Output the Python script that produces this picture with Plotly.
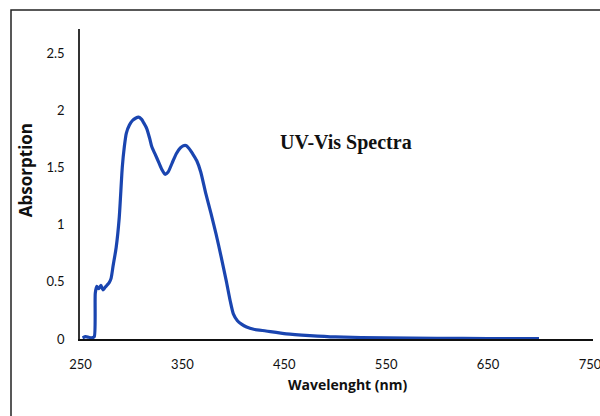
import plotly.graph_objects as go

# UV-Vis absorption spectrum (wavelength in nm, absorption in a.u.)
wavelength = [252, 255, 258, 261, 263.5, 264.5, 266, 268, 270, 272, 274, 276, 278, 280,
              282, 285, 288, 291, 293, 295, 298, 301, 304, 307, 310, 312, 315, 318, 320,
              323, 327, 330, 333, 336, 340, 344, 348, 351, 354, 357, 360, 364, 368, 373,
              378, 383, 388, 393, 397, 400, 404, 408, 413, 420, 432, 452, 475, 500, 550,
              600, 650, 700]
absorption = [0.01, 0.02, 0.015, 0.01, 0.02, 0.40, 0.46, 0.44, 0.47, 0.43, 0.45, 0.47, 0.49, 0.53,
              0.64, 0.80, 1.06, 1.50, 1.68, 1.80, 1.87, 1.91, 1.93, 1.94, 1.92, 1.89, 1.84, 1.75, 1.68,
              1.62, 1.54, 1.48, 1.44, 1.46, 1.54, 1.62, 1.67, 1.69, 1.69, 1.66, 1.62, 1.56, 1.46, 1.27,
              1.10, 0.92, 0.72, 0.51, 0.33, 0.22, 0.16, 0.13, 0.105, 0.085, 0.07, 0.045, 0.03, 0.018, 0.01,
              0.006, 0.004, 0.003]

x_ticks = [250, 350, 450, 550, 650, 750]
y_ticks = [0, 0.5, 1, 1.5, 2, 2.5]
y_tick_text = ["0", "0.5", "1", "1.5", "2", "2.5"]

tick_font = dict(family="Lato, Open Sans, sans-serif", size=13, color="#111111")

fig = go.Figure()
fig.add_trace(go.Scatter(
    x=wavelength, y=absorption, mode="lines",
    line=dict(color="#1a45b0", width=3.2, shape="spline", smoothing=0.6),
    showlegend=False, hoverinfo="skip",
))

fig.update_layout(
    width=600, height=416,
    margin=dict(l=80, r=7, t=29, b=77, autoexpand=False),
    paper_bgcolor="white", plot_bgcolor="white",
    xaxis=dict(
        range=[249.5, 753], tickvals=x_ticks, ticks="", showgrid=False, zeroline=False,
        showline=True, linecolor="#111111", linewidth=2, tickfont=tick_font,
        ticklabelstandoff=12, ticklabeloverflow="allow", automargin=False,
    ),
    yaxis=dict(
        range=[0, 2.71], tickvals=y_ticks, ticktext=y_tick_text, ticks="", showgrid=False,
        zeroline=False, showline=True, linecolor="#333333", linewidth=1.5, tickfont=tick_font,
        ticklabelstandoff=11, automargin=False,
    ),
    shapes=[
        # outer frame around the figure
        dict(type="rect", xref="paper", yref="paper", x0=-0.1345, x1=1.2, y0=-0.5, y1=1.0615,
             line=dict(color="#222222", width=1.5), fillcolor="rgba(0,0,0,0)", layer="below"),
    ],
    annotations=[
        dict(text="<b>UV-Vis Spectra</b>", x=511, y=0.635, xref="x", yref="paper",
             showarrow=False, font=dict(family="Liberation Serif, Times New Roman, serif",
                                        size=20, color="#111111"),
             yanchor="middle", xanchor="center"),
        dict(text="<b>Wavelenght (nm)</b>", x=512, y=-0.148, xref="x", yref="paper",
             showarrow=False,
             font=dict(family="Open Sans, Noto Sans, sans-serif", size=14, color="#111111"),
             yanchor="middle", xanchor="center"),
        dict(text="<b>Absorption</b>", x=-0.107, y=0.545, xref="paper", yref="paper",
             showarrow=False,
             font=dict(family="Open Sans, Noto Sans, sans-serif", size=17, color="#111111"),
             textangle=-90, yanchor="middle", xanchor="center"),
    ],
)

fig.write_html("out.html")
